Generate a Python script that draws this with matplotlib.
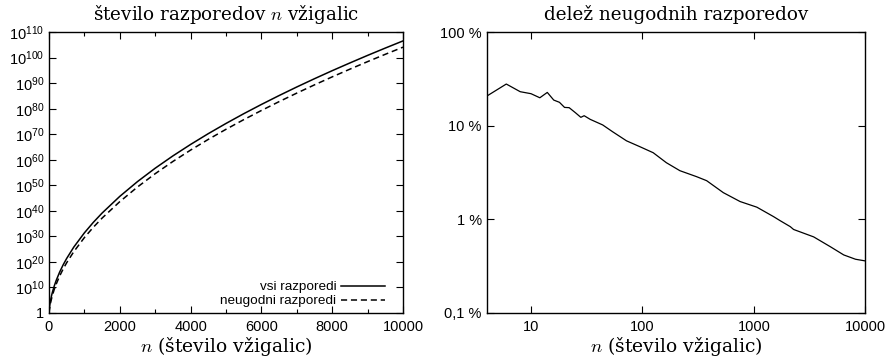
import matplotlib
matplotlib.use("Agg")
from matplotlib import pyplot as plt
from matplotlib.ticker import FixedLocator, MultipleLocator
import numpy as np

# left panel: log10 of number of arrangements
n_left = [1, 2, 5, 10, 20, 30, 50, 75, 100, 150, 200, 300, 400, 500, 700, 1000,
          1250, 1500, 2000, 2500, 3000, 3500, 4000, 4500, 5000, 5500, 6000, 6500,
          7000, 7500, 8000, 8500, 9000, 9500, 10000]
log_all = [0.0, 0.30, 0.85, 1.62, 2.80, 3.75, 5.31, 6.91, 8.28, 10.61, 12.60, 15.97,
           18.84, 21.36, 25.79, 31.38, 35.45, 39.13, 45.67, 51.46, 56.70, 61.52,
           66.01, 70.24, 74.23, 78.04, 81.67, 85.16, 88.52, 91.76, 94.90, 97.93,
           100.89, 103.76, 106.56]
log_bad = [0.0, 0.0, 0.23, 0.96, 2.00, 2.86, 4.30, 5.73, 7.04, 9.27, 11.16, 14.43,
           17.22, 19.68, 23.99, 29.53, 33.53, 37.16, 43.60, 49.34, 54.55, 59.34,
           63.80, 67.99, 71.94, 75.71, 79.31, 82.78, 86.12, 89.35, 92.48, 95.50,
           98.45, 101.32, 104.11]

# right panel: share of unfavourable arrangements (percent)
n_right = [4, 6, 8, 10, 12, 14, 16, 18, 20, 22, 25, 28, 30, 34, 44, 54, 72, 95,
           125, 164, 217, 306, 377, 532, 753, 1064, 1503, 1718, 2124, 2274, 3444,
           4866, 6412, 8180, 10000]
share = [20.7, 27.9, 23.1, 22.0, 19.9, 22.7, 18.8, 17.8, 15.7, 15.6, 13.8, 12.3,
         12.8, 11.7, 10.2, 8.63, 6.9, 5.97, 5.15, 4.03, 3.31, 2.86, 2.59, 1.93,
         1.55, 1.35, 1.07, 0.97, 0.836, 0.78, 0.65, 0.51, 0.417, 0.375, 0.36]

plt.rcParams['font.family'] = ['Liberation Sans', 'DejaVu Sans']
plt.rcParams['mathtext.fontset'] = 'cm'
serif = ['DejaVu Serif']

fig = plt.figure(figsize=(8.92, 3.61), dpi=100)
ax1 = fig.add_axes([0.0549, 0.133, 0.3969, 0.778])
ax2 = fig.add_axes([0.5456, 0.133, 0.4244, 0.778])

ax1.plot(n_left, 10.0 ** np.array(log_all), color='black', lw=1.1, label='vsi razporedi')
ax1.plot(n_left, 10.0 ** np.array(log_bad), color='black', lw=1.1, ls=(0, (4, 2.5)),
         label='neugodni razporedi')
ax1.set_yscale('log')
ax1.set_xlim(0, 10000)
ax1.set_ylim(1, 1e110)
ax1.xaxis.set_major_locator(MultipleLocator(2000))
ax1.xaxis.set_minor_locator(MultipleLocator(1000))
yt = [10.0 ** k for k in range(0, 111, 10)]
ax1.yaxis.set_major_locator(FixedLocator(yt))
ax1.yaxis.set_minor_locator(FixedLocator([]))
ax1.set_yticklabels(['1'] + ['$\\mathregular{10^{%d}}$' % k for k in range(10, 111, 10)])
ax1.set_title('število razporedov $n$ vžigalic', family=serif, fontsize=13.2, pad=9)
ax1.set_xlabel('$n$ (število vžigalic)', family=serif, fontsize=13.5, labelpad=1)
ax1.legend(loc='lower right', bbox_to_anchor=(0.95, 0.02), frameon=False,
           markerfirst=False, handlelength=3.3, fontsize=9.7, labelspacing=0.12,
           borderpad=0, borderaxespad=0, handletextpad=0.35)

ax2.plot(n_right, share, color='black', lw=0.9)
ax2.set_xscale('log')
ax2.set_yscale('log')
ax2.set_xlim(4, 10000)
ax2.set_ylim(0.1, 100)
ax2.xaxis.set_major_locator(FixedLocator([10, 100, 1000, 10000]))
ax2.xaxis.set_minor_locator(FixedLocator([]))
ax2.set_xticklabels(['10', '100', '1000', '10000'])
ax2.yaxis.set_major_locator(FixedLocator([0.1, 1, 10, 100]))
ax2.yaxis.set_minor_locator(FixedLocator([]))
ax2.set_yticklabels(['0,1 %', '1 %', '10 %', '100 %'])
ax2.set_title('delež neugodnih razporedov', family=serif, fontsize=13.2, pad=9)
ax2.set_xlabel('$n$ (število vžigalic)', family=serif, fontsize=13.5, labelpad=1)

for ax in (ax1, ax2):
    ax.tick_params(which='both', direction='in', top=True, right=True, labelsize=10.5)
    ax.tick_params(which='major', length=5, width=0.8)
    ax.tick_params(which='minor', length=3, width=0.8)
    ax.tick_params(axis='x', pad=5)
    for s in ax.spines.values():
        s.set_linewidth(1.0)

fig.savefig('out.png', dpi=100)
